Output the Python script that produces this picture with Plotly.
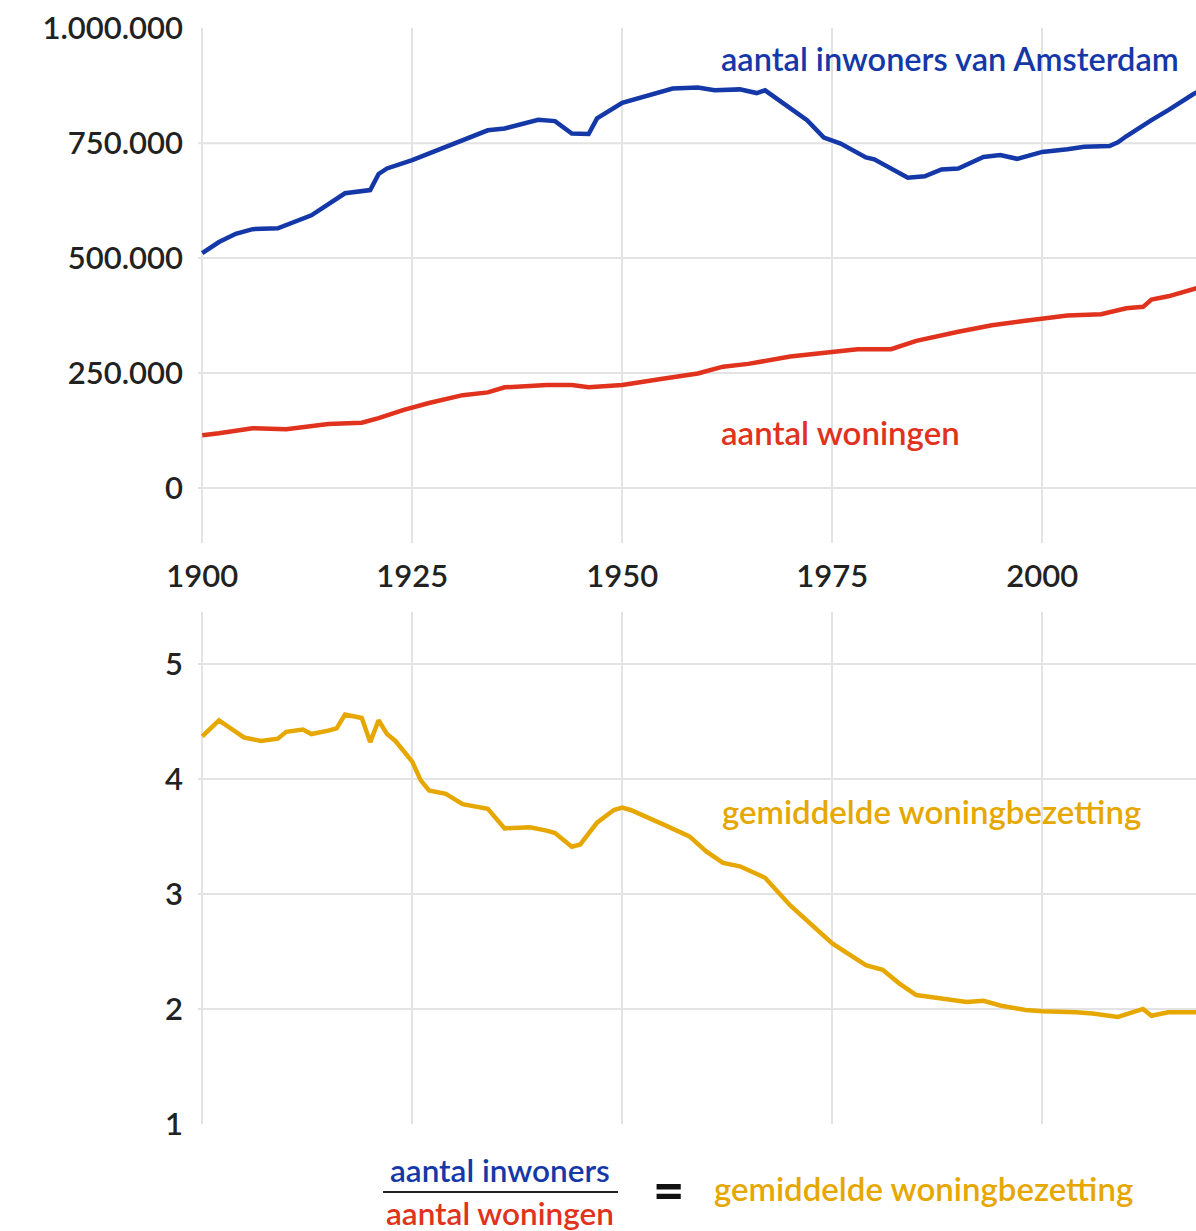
import plotly.graph_objects as go
from plotly.subplots import make_subplots

# ---- data ----
years_pop = [1900, 1901, 1902, 1904, 1906, 1909, 1913, 1917, 1920, 1921, 1922, 1925, 1931,
             1934, 1936, 1940, 1942, 1944, 1946, 1947, 1950, 1954, 1956, 1959, 1961, 1964,
             1966, 1967, 1970, 1972, 1974, 1976, 1979, 1980, 1984, 1986, 1988, 1990, 1993,
             1995, 1997, 2000, 2003, 2005, 2008, 2009, 2010, 2012, 2013, 2015, 2016, 2017,
             2018, 2019]
inwoners = [511000, 523000, 535000, 553000, 563000, 565000, 593000, 641000, 648000, 683000,
            695000, 713000, 757000, 778000, 782000, 801000, 798000, 771000, 770000, 804000,
            838000, 858000, 869000, 871000, 865000, 867000, 859000, 865000, 825000, 800000,
            762000, 749000, 719000, 715000, 675000, 678000, 693000, 695000, 720000, 724000,
            716000, 731000, 737000, 742000, 744000, 752000, 765000, 789000, 800000, 822000,
            834000, 845000, 857000, 866000]

years_won = [1900, 1902, 1906, 1910, 1915, 1919, 1921, 1924, 1927, 1931, 1934, 1936, 1941,
             1944, 1946, 1950, 1955, 1959, 1962, 1965, 1970, 1975, 1978, 1982, 1985, 1990,
             1994, 1998, 2000, 2003, 2007, 2010, 2012, 2013, 2015, 2018, 2019]
woningen = [115000, 119000, 130000, 128000, 139000, 142000, 152000, 170000, 185000, 202000,
            208000, 219000, 224000, 224000, 219000, 224000, 238000, 249000, 264000, 270000,
            286000, 296000, 302000, 302000, 320000, 340000, 354000, 364000, 369000, 375000,
            378000, 391000, 394000, 410000, 417000, 433000, 438000]

years_bez = [1900, 1902, 1905, 1907, 1909, 1910, 1912, 1913, 1915, 1916, 1917, 1919, 1920,
             1921, 1922, 1923, 1925, 1926, 1927, 1929, 1931, 1933, 1934, 1936, 1939, 1941,
             1942, 1944, 1945, 1947, 1949, 1950, 1951, 1955, 1958, 1960, 1962, 1964, 1967,
             1970, 1973, 1975, 1979, 1981, 1983, 1985, 1988, 1991, 1993, 1995, 1998, 2000,
             2004, 2006, 2009, 2012, 2013, 2015, 2018, 2019]
bezetting = [4.37, 4.51, 4.36, 4.33, 4.35, 4.41, 4.43, 4.39, 4.42, 4.44, 4.56, 4.53, 4.32,
             4.51, 4.39, 4.33, 4.15, 3.99, 3.90, 3.87, 3.78, 3.75, 3.74, 3.57, 3.58, 3.55,
             3.53, 3.41, 3.43, 3.62, 3.73, 3.75, 3.73, 3.60, 3.50, 3.37, 3.27, 3.24, 3.14,
             2.90, 2.70, 2.57, 2.38, 2.34, 2.22, 2.12, 2.09, 2.06, 2.07, 2.03, 1.99, 1.98,
             1.97, 1.96, 1.93, 2.00, 1.94, 1.97, 1.97, 1.97]

x_ticks = [1900, 1925, 1950, 1975, 2000]
top_ticks = [0, 250000, 500000, 750000, 1000000]
top_tick_text = ["0", "250.000", "500.000", "750.000", "1.000.000"]
bottom_ticks = [1, 2, 3, 4, 5]

BLUE = "#1538a8"
RED = "#e0321c"
YELLOW = "#e6a800"
GRID = "#e3e3e3"
FONT = "Lato"

fig = make_subplots(rows=2, cols=1, shared_xaxes=False, vertical_spacing=0.0)

fig.add_trace(go.Scatter(x=years_pop, y=inwoners, mode="lines",
                         line=dict(color=BLUE, width=4.5), hoverinfo="skip"), row=1, col=1)
fig.add_trace(go.Scatter(x=years_won, y=woningen, mode="lines",
                         line=dict(color=RED, width=4.5), hoverinfo="skip"), row=1, col=1)
fig.add_trace(go.Scatter(x=years_bez, y=bezetting, mode="lines",
                         line=dict(color=YELLOW, width=4.5), hoverinfo="skip"), row=2, col=1)

tick_font = dict(family=FONT, size=31, color="#222", weight=600)
xr = [1899.5, 2018.3]
common_x = dict(range=xr, tickvals=x_ticks, showgrid=True, gridcolor=GRID, gridwidth=2,
                zeroline=False, showline=False, ticks="")
fig.update_xaxes(**common_x, showticklabels=True, ticklabelstandoff=12,
                 tickfont=tick_font, row=1, col=1)
fig.update_xaxes(**common_x, showticklabels=False, row=2, col=1)

fig.update_yaxes(range=[-119600, 1000500], tickvals=top_ticks, ticktext=top_tick_text,
                 showgrid=False, zeroline=False, showline=False, ticks="",
                 ticklabelstandoff=14, tickfont=tick_font,
                 domain=[0.5301, 1.0], row=1, col=1)
fig.update_yaxes(range=[0.999, 5.452], tickvals=bottom_ticks,
                 showgrid=False, zeroline=False, showline=False, ticks="",
                 ticklabelstandoff=14, tickfont=tick_font,
                 domain=[0.0, 0.4672], row=2, col=1)

# horizontal gridlines (skip the outermost tick of each panel, as in the reference)
for v in top_ticks[:-1]:
    fig.add_shape(type="line", xref="x domain", yref="y", x0=0, x1=1, y0=v, y1=v,
                  line=dict(color=GRID, width=2), layer="below")
for v in bottom_ticks[1:]:
    fig.add_shape(type="line", xref="x2 domain", yref="y2", x0=0, x1=1, y0=v, y1=v,
                  line=dict(color=GRID, width=2), layer="below")

ann_font = dict(family=FONT, size=33, weight=600)
fig.add_annotation(text="aantal inwoners van Amsterdam", xref="paper", yref="paper",
                   x=0.522, y=0.9726, xanchor="left", yanchor="middle", showarrow=False,
                   font=dict(family=FONT, size=32.5, weight=600, color=BLUE))
fig.add_annotation(text="aantal woningen", xref="paper", yref="paper",
                   x=0.522, y=0.6314, xanchor="left", yanchor="middle", showarrow=False,
                   font=dict(**ann_font, color=RED))
fig.add_annotation(text="gemiddelde woningbezetting", xref="paper", yref="paper",
                   x=0.523, y=0.2856, xanchor="left", yanchor="middle", showarrow=False,
                   font=dict(**ann_font, color=YELLOW))

# formula under the chart
eq_font = dict(family=FONT, size=31.5, weight=600)
fig.add_annotation(text="aantal inwoners", xref="paper", yref="paper",
                   x=0.3026, y=-0.042, xanchor="center", yanchor="middle", showarrow=False,
                   font=dict(**eq_font, color=BLUE))
fig.add_annotation(text="aantal woningen", xref="paper", yref="paper",
                   x=0.3026, y=-0.0815, xanchor="center", yanchor="middle", showarrow=False,
                   font=dict(**eq_font, color=RED))
fig.add_shape(type="line", xref="paper", yref="paper", x0=0.1854, x1=0.4208,
              y0=-0.062, y1=-0.062, line=dict(color="#222", width=2))
fig.add_annotation(text="=", xref="paper", yref="paper",
                   x=0.471, y=-0.0593, xanchor="center", yanchor="middle", showarrow=False,
                   font=dict(family=FONT, size=54, weight=900, color="#111"))
fig.add_annotation(text="gemiddelde woningbezetting", xref="paper", yref="paper",
                   x=0.515, y=-0.0584, xanchor="left", yanchor="middle", showarrow=False,
                   font=dict(**ann_font, color=YELLOW))

fig.update_layout(width=1196, height=1231, margin=dict(l=198, r=0, t=28, b=107),
                  paper_bgcolor="white", plot_bgcolor="white", showlegend=False,
                  font=dict(family=FONT))

# remove the browser's default 8px page margin so the figure fills the window exactly
fig.write_html("out.html", config={"displayModeBar": False},
               post_script="document.body.style.margin='0';document.body.style.overflow='hidden';")
